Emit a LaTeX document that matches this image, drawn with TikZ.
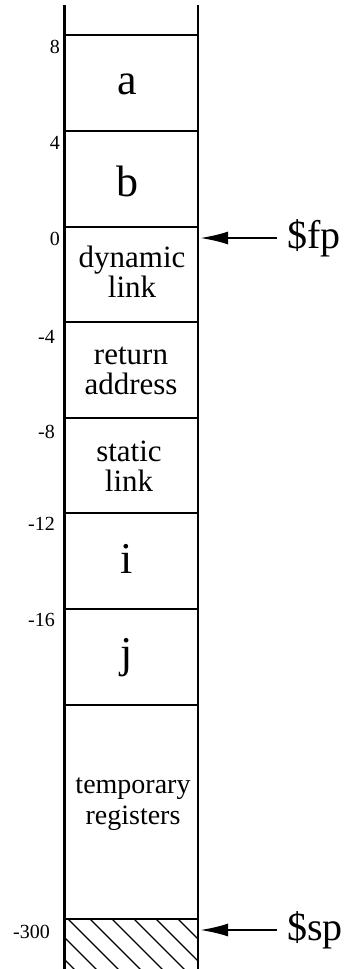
\documentclass[tikz,border=0pt]{standalone}
\usepackage{fontspec}
\setmainfont{Liberation Serif}
\usetikzlibrary{arrows.meta}

\tikzset{
  frame/.style={line width=2.5pt},
  hatchline/.style={line width=1.3pt},
  ptr/.style={line width=2.2pt, -{Latex[length=28pt,width=13pt]}},
  bigcell/.style={inner sep=0pt, font=\fontsize{44}{44}\selectfont},
  wordcell/.style={inner sep=0pt, align=center, font=\fontsize{31}{30}\selectfont},
  smallwordcell/.style={inner sep=0pt, align=center, font=\fontsize{28}{31}\selectfont},
  offset/.style={inner sep=0pt, anchor=east, font=\fontsize{20}{20}\selectfont},
  regname/.style={anchor=west, inner xsep=10pt, inner ysep=0pt, font=\fontsize{40}{40}\selectfont},
}

\begin{document}
\begin{tikzpicture}[x=1pt,y=-1pt]
  \useasboundingbox (0,0) rectangle (344,969);

  % column walls, open at both ends
  \draw[frame] (64.5,5) -- (64.5,980);
  \draw[frame] (198,5) -- (198,980);

  % slot boundaries
  \foreach \yy in {35,131,227,322,418,513,609,705,919}
    \draw[frame] (64.5,\yy) -- (198,\yy);

  % hatched area below the stack pointer
  \begin{scope}
    \clip (64.5,919) rectangle (198,980);
    \foreach \xx in {2,24,46,68,90,112,134,156,178}
      \draw[hatchline] (\xx,919) -- ++(70,70);
  \end{scope}

  % slot contents
  \node[bigcell] (a) at (127,84) {a};
  \node[bigcell] (b) at (127,181) {b};
  \node[wordcell] (dyn) at (132,272) {dynamic\\link};
  \node[wordcell] (ret) at (131,371) {return\\address};
  \node[wordcell] (stat) at (129,466) {static\\link};
  \node[bigcell] (i) at (127,559) {i};
  \node[bigcell] (j) at (127,658) {j};
  \node[smallwordcell] (tmp) at (133,804) {temporary\\registers};

  % byte offsets from the frame pointer
  \node[offset] (o8)  at (60,47)  {8};
  \node[offset] (o4)  at (60,143) {4};
  \node[offset] (o0)  at (60,239) {0};
  \node[offset] (om4) at (55,337) {-4};
  \node[offset] (om8) at (55,432) {-8};
  \node[offset] (om12) at (55,524) {-12};
  \node[offset] (om16) at (55,620) {-16};
  \node[offset] (om300) at (50,932) {-300};

  % register pointers
  \coordinate (fptip) at (200,238);
  \coordinate (sptip) at (200,930);
  \node[regname] (fp) at (277,238) {\$fp};
  \node[regname] (sp) at (277,930) {\$sp};
  \draw[ptr] (fp) -- (fptip);
  \draw[ptr] (sp) -- (sptip);
\end{tikzpicture}
\end{document}
